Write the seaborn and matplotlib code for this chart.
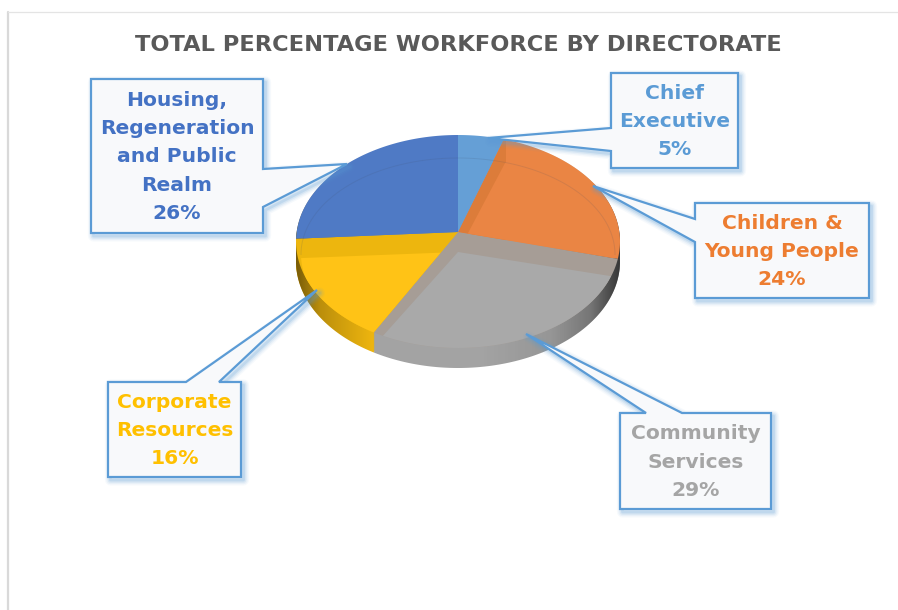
import matplotlib

matplotlib.use("Agg")
import matplotlib.pyplot as plt
import numpy as np
import seaborn as sns
from matplotlib.path import Path
from matplotlib.patches import PathPatch
from matplotlib.transforms import Affine2D, Transform

categories = [
    "Chief\nExecutive",
    "Children &\nYoung People",
    "Community\nServices",
    "Corporate\nResources",
    "Housing,\nRegeneration\nand Public\nRealm",
]
percent = [5, 24, 29, 16, 26]

top_hex = ["#659FD6", "#EA8544", "#A9A9A9", "#FFC316", "#4F7AC5"]
base_hex = ["#659FD6", "#EA8544", "#A69D96", "#EDB60E", "#4F7AC5"]
side_hex = ["#A3A3A3", "#A3A3A3", "#A3A3A3", "#F0B70F", "#F0B70F"]
text_hex = ["#5B9BD5", "#ED7D31", "#A5A5A5", "#FFC000", "#4472C4"]
ORANGE_WALL = "#DC7C3A"
LINE = "#5B9BD5"
BOX = "#F8F9FB"

W, H = 898, 610
FONT = "DejaVu Sans"

# box (left, top, right, bottom), then the outline points of the pointer
callouts = [
    ((611, 73, 738, 168), [(611, 128), (488, 138), (611, 151)]),
    ((695, 203, 869, 298), [(695, 219), (593, 186), (695, 242)]),
    ((620, 413, 771, 509), [(682, 413), (526, 334), (646, 413)]),
    ((108, 382, 241, 477), [(219, 382), (317, 290), (186, 382)]),
    ((91, 79, 263, 233), [(263, 169), (347, 164), (263, 207)]),
]


class TiltTransform(Transform):
    """Unit pie to pixels in perspective: ry_up behind the hub, ry_down in front.

    drop moves the front of the rim down, which gives the outline of the pie wall.
    """

    input_dims = 2
    output_dims = 2
    is_separable = False

    def __init__(self, cx, cy, rx, ry_up, ry_down, drop=0):
        super().__init__()
        self.cx, self.cy, self.drop = cx, cy, drop
        self.k = (ry_down - ry_up) / (ry_down + ry_up)
        self.a = ry_up * (1 + self.k)
        self.b = rx * np.sqrt(1 - self.k**2)

    def transform_non_affine(self, values):
        x, y = np.asarray(values).T
        depth = 1 + self.k * y
        py = self.cy + np.where(y > -self.k, 0, self.drop)
        return np.column_stack([self.cx + self.b * x / depth, H - py + self.a * y / depth])

    def transform_path_non_affine(self, path):
        # flatten the arcs at a large scale so that they stay smooth
        polys = path.transformed(Affine2D().scale(2000)).to_polygons(closed_only=True)
        verts = np.vstack(polys) / 2000
        codes = np.concatenate(
            [[Path.MOVETO] + [Path.LINETO] * (len(p) - 2) + [Path.CLOSEPOLY] for p in polys]
        )
        return Path(self.transform_non_affine(verts), codes)


def draw_pie(ax, values, colors, tilt, zorder, **wedge_kw):
    wedge_kw.setdefault("linewidth", 0)
    wedges, _ = ax.pie(
        values,
        colors=colors,
        startangle=90,
        counterclock=False,
        radius=1,
        wedgeprops=wedge_kw,
    )
    for wedge in wedges:
        wedge.set_transform(tilt + ax.transData)
        wedge.set_zorder(zorder)
        wedge.set_clip_on(True)
        wedge.set_clip_box(None)
    return wedges


def rect_path(left, right, bottom=0, top=H):
    return Path(
        [(left, bottom), (right, bottom), (right, top), (left, top), (left, bottom)], closed=True
    )


sns.set_theme(style="white")
plt.rcParams["font.family"] = [FONT]

fig = plt.figure(figsize=(W / 100, H / 100), dpi=100)
ax = fig.add_axes([0, 0, 1, 1])

CX, CY, RX, UP, DOWN = 458, 232, 162, 97, 116
DEPTH = 20

# pie wall, a stack of the same pie going up
sides = sns.color_palette(side_hex)
for dy in range(DEPTH, 0, -1):
    draw_pie(ax, percent, sides, TiltTransform(CX, CY + dy, RX, UP, DOWN), 1)

# shading along the wall, dark at both ends
px = np.arange(290, 630)
shade = np.zeros((1, len(px), 4))
shade[0, :, 3] = np.interp(
    px, [296, 320, 375, 480, 550, 590, 610, 622], [0.5, 0.22, 0.0, 0.0, 0.08, 0.28, 0.55, 0.7]
)
im = ax.imshow(shade, extent=(290, 630, 0, H), aspect="auto", zorder=1.5)
outline = draw_pie(ax, [1], ["none"], TiltTransform(CX, CY, RX, UP, DOWN, drop=DEPTH), 1.4)[0]
im.set_clip_path(outline)

# top surface with the sunken inner part
outer_tilt = TiltTransform(CX, CY, RX, UP, DOWN)
outer = draw_pie(ax, percent, sns.color_palette(base_hex), outer_tilt, 2)

orange_wall = draw_pie(ax, percent, [ORANGE_WALL] * len(percent), outer_tilt, 2.1)
for i, wedge in enumerate(orange_wall):
    wedge.set_visible(i == 1)
orange_wall[1].set_clip_path(rect_path(440, 506), ax.transData)

inner_tilt = TiltTransform(CX, CY + DEPTH, 157, 94, 99)
inner = draw_pie(ax, percent, sns.color_palette(top_hex), inner_tilt, 2.2)
for wedge, clip in zip(inner, outer):
    wedge.set_clip_path(clip)

# faint rim of the inner part, it only shows towards the back
rim = draw_pie(ax, [1], ["none"], inner_tilt, 2.3, linewidth=0.7)[0]
rim.set_edgecolor((0.25, 0.3, 0.4, 0.14))
rim.set_facecolor("none")
rim.set_clip_path(rect_path(0, W, H - 255, H), ax.transData)

ax.set_aspect("auto")
ax.set_xlim(0, W)
ax.set_ylim(0, H)
ax.axis("off")

# chart frame, only top and left are in view
ax.plot([8, 8], [0, H - 12], color="#D9D9D9", lw=1.6, zorder=1)
ax.plot([8, W], [H - 12, H - 12], color="#E4E4E4", lw=0.9, zorder=1)

ax.text(
    458.5, H - 45, "TOTAL PERCENTAGE WORKFORCE BY DIRECTORATE",
    ha="center", va="center", fontsize=16.2, fontweight="bold", color="#595959",
)

for ((l, t, r, b), pointer), name, pct, colour in zip(callouts, categories, percent, text_hex):
    # walk the box clockwise and put the pointer on the edge it leaves from
    if pointer[0][0] == pointer[2][0] and pointer[0][0] == r:
        pts = [(l, t), (r, t), *pointer, (r, b), (l, b)]
    elif pointer[0][0] == pointer[2][0]:
        pts = [(l, t), (r, t), (r, b), (l, b), *pointer[::-1]]
    else:
        pts = [(l, t), *pointer[::-1], (r, t), (r, b), (l, b)]
    xy = np.array(pts, dtype=float)
    xy[:, 1] = H - xy[:, 1]
    closed = np.vstack([xy, xy[:1]])

    for grow, a in zip((8, 6, 4, 2), (0.05, 0.08, 0.12, 0.18)):
        ax.add_patch(
            PathPatch(
                Path(closed + (2.5, -3), closed=True),
                facecolor="none", edgecolor=LINE, lw=grow, alpha=a, joinstyle="round", zorder=3,
            )
        )
    ax.add_patch(
        PathPatch(
            Path(closed, closed=True),
            facecolor=BOX, edgecolor=LINE, lw=1.6, joinstyle="miter", zorder=4,
        )
    )
    ax.text(
        (l + r) / 2, H - (t + b) / 2 - 1, f"{name}\n{pct}%",
        ha="center", va="center", ma="center", fontsize=14.6, fontweight="bold",
        color=colour, linespacing=1.62, zorder=5,
    )

fig.savefig("out.png", dpi=100)
